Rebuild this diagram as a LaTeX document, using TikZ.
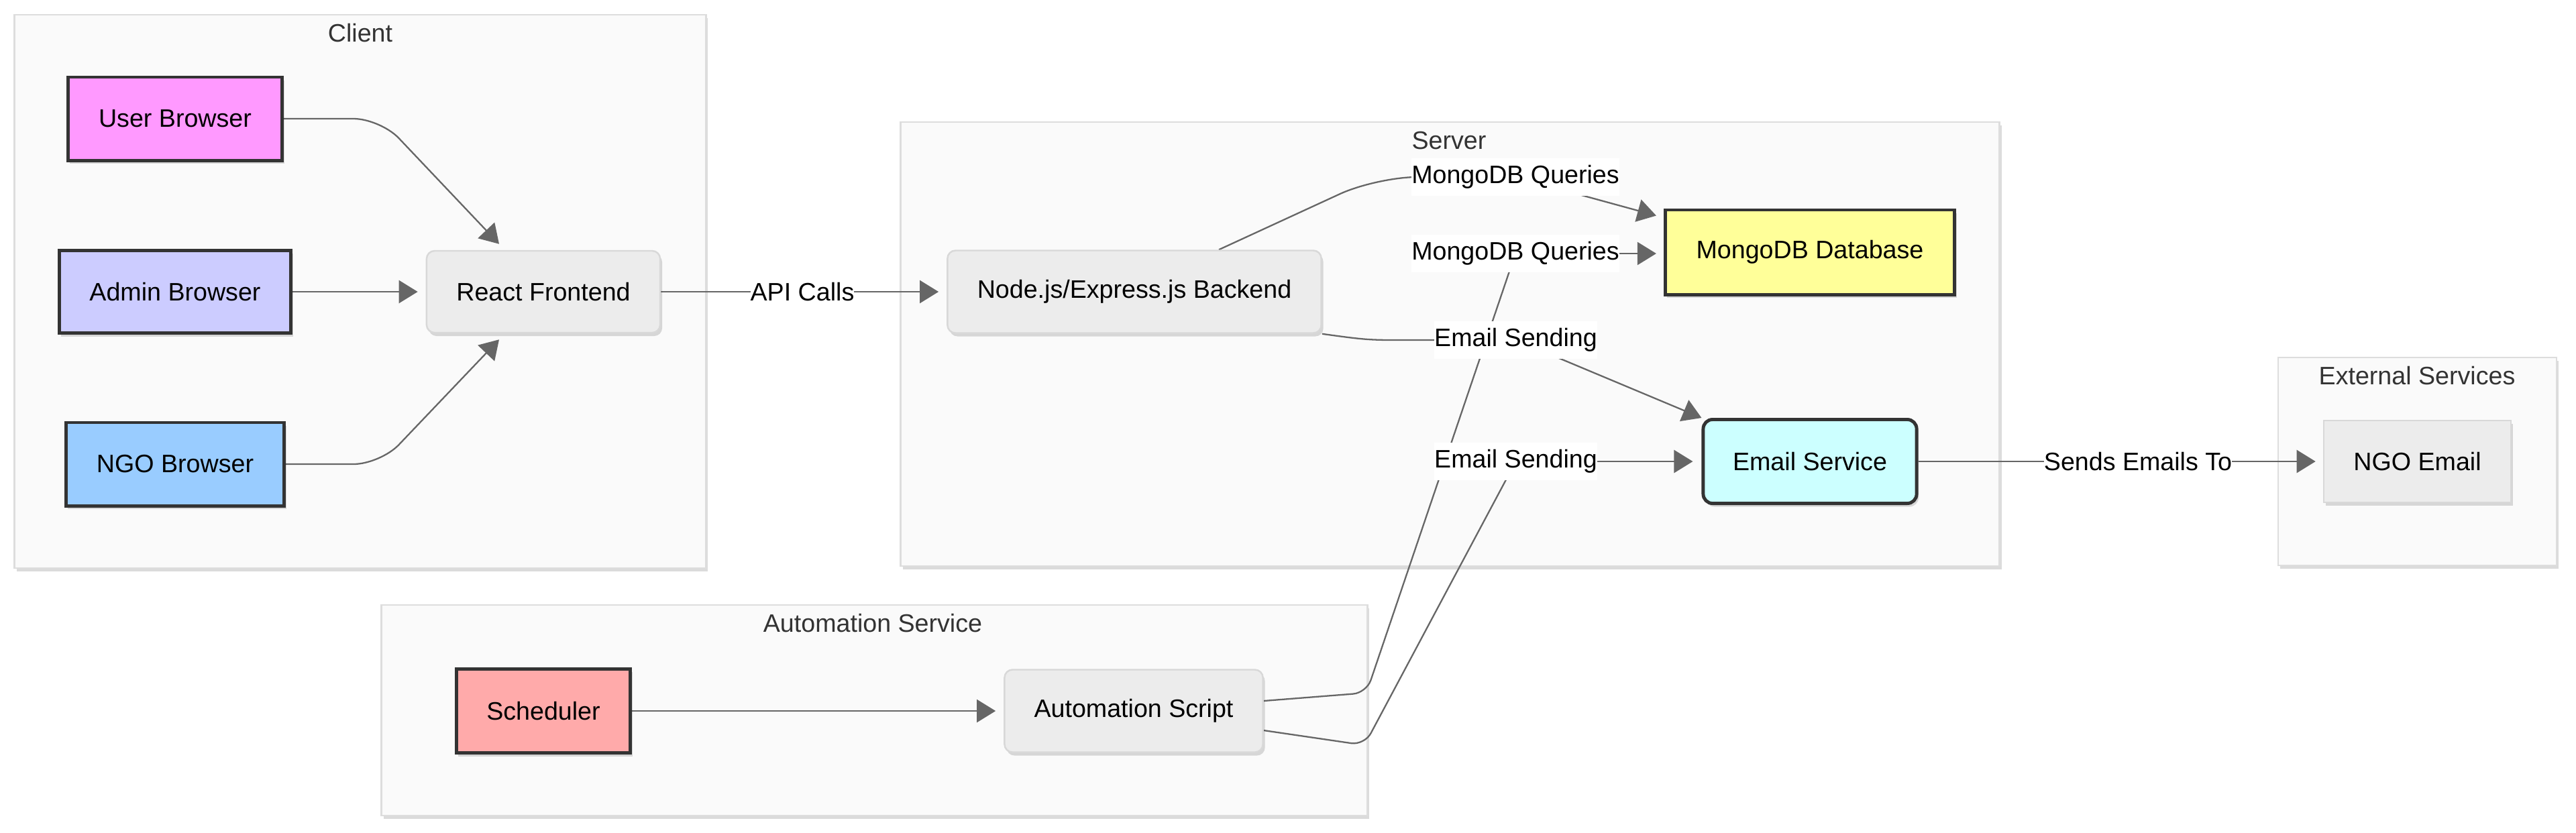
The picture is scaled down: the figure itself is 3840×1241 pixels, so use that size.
\documentclass[tikz,border=0pt]{standalone}
\usepackage{fontspec}
\setmainfont{Liberation Sans}
\usetikzlibrary{arrows.meta,calc,shadows}
\definecolor{edgec}{HTML}{666666}
\definecolor{thickc}{HTML}{333333}
\definecolor{nodefill}{HTML}{ECECEC}
\definecolor{nodeline}{HTML}{D8D8D8}
\definecolor{clfill}{HTML}{FAFAFA}
\definecolor{clline}{HTML}{DDDDDD}
\definecolor{cuser}{HTML}{FF99FF}
\definecolor{cadmin}{HTML}{CCCCFF}
\definecolor{cngo}{HTML}{99CCFF}
\definecolor{cdb}{HTML}{FFFF99}
\definecolor{cemail}{HTML}{CCFFFF}
\definecolor{csched}{HTML}{FFAAAA}
\definecolor{titlec}{HTML}{333333}
\pgfdeclarelayer{clusterlayer}
\pgfdeclarelayer{edgelayer}
\pgfsetlayers{clusterlayer,edgelayer,main}
\begin{document}
\begin{tikzpicture}[x=0.01cm,y=-0.01cm,
  txt/.style={font=\fontsize{10.7}{12.8}\selectfont},
  shad/.style={drop shadow={shadow xshift=0.03cm,shadow yshift=-0.05cm,opacity=0.14,fill=black}},
  basebox/.style={txt,shad,inner sep=0pt,align=center,text=black},
  graybox/.style={basebox,draw=nodeline,line width=0.7pt,fill=nodefill,rounded corners=0.12cm},
  grayrect/.style={basebox,draw=nodeline,line width=0.7pt,fill=nodefill},
  thickbox/.style={basebox,draw=thickc,line width=1.4pt},
  cluster/.style={draw=clline,line width=0.7pt,fill=clfill,shad,inner sep=0pt},
  cltitle/.style={txt,text=titlec,inner sep=0pt},
  elabel/.style={txt,fill=white,inner xsep=0pt,inner ysep=0pt,minimum height=0.56cm,text=black},
  conn/.style={draw=edgec,line width=0.65pt},
  arr/.style={conn,-{Triangle[length=0.28cm,width=0.34cm]}}
]
\useasboundingbox (0,0) rectangle (3840,1241);

% clusters
\begin{pgfonlayer}{clusterlayer}
\node[cluster,minimum width=10.30cm,minimum height=8.25cm] (clientbox) at (537,434.5) {};
\node[cluster,minimum width=16.37cm,minimum height=6.62cm] (serverbox) at (2161.5,513) {};
\node[cluster,minimum width=4.15cm,minimum height=3.10cm] (extbox) at (3603.5,688) {};
\node[cluster,minimum width=14.69cm,minimum height=3.14cm] (autobox) at (1303.5,1059) {};
\end{pgfonlayer}
\node[cltitle] (clienttitle) at (537,49) {Client};
\node[cltitle] (servertitle) at (2160,210) {Server};
\node[cltitle] (exttitle) at (3603,560) {External Services};
\node[cltitle] (autotitle) at (1301,929) {Automation Service};

% nodes
\node[thickbox,fill=cuser,minimum width=3.19cm,minimum height=1.24cm] (user) at (261,177) {User Browser};
\node[thickbox,fill=cadmin,minimum width=3.45cm,minimum height=1.23cm] (admin) at (261,435) {Admin Browser};
\node[thickbox,fill=cngo,minimum width=3.25cm,minimum height=1.24cm] (ngo) at (261,692) {NGO Browser};
\node[graybox,minimum width=3.48cm,minimum height=1.22cm] (react) at (810,435) {React Frontend};
\node[graybox,minimum width=5.57cm,minimum height=1.23cm] (backend) at (1691,435) {Node.js/Express.js Backend};
\node[thickbox,fill=cdb,minimum width=4.31cm,minimum height=1.26cm] (db) at (2698,376) {MongoDB Database};
\node[thickbox,fill=cemail,rounded corners=0.14cm,minimum width=3.18cm,minimum height=1.25cm] (email) at (2698,688) {Email Service};
\node[grayrect,minimum width=2.79cm,minimum height=1.22cm] (ngoemail) at (3603.5,688) {NGO Email};
\node[thickbox,fill=csched,minimum width=2.59cm,minimum height=1.25cm] (sched) at (810,1060) {Scheduler};
\node[graybox,minimum width=3.85cm,minimum height=1.23cm] (script) at (1690,1060) {Automation Script};

% edge labels
\node[elabel] (apicalls) at (1196,435) {API Calls};
\node[elabel] (mq1) at (2259,264) {MongoDB Queries};
\node[elabel] (mq2) at (2259,378) {MongoDB Queries};
\node[elabel] (es1) at (2259.5,507) {Email Sending};
\node[elabel] (es2) at (2259.5,688) {Email Sending};
\node[elabel] (sends) at (3187,688) {Sends Emails To};

% edges
\begin{pgfonlayer}{edgelayer}
\draw[arr,rounded corners=0.4cm] (user.east) -- (567,177) -- ($(react.north)+(-66,-9)$);
\draw[arr] (admin.east) -- ($(react.west)+(-12,0)$);
\draw[arr,rounded corners=0.4cm] (ngo.east) -- (567,692) -- ($(react.south)+(-66,9)$);
\draw[arr] (react.east) -- ($(backend.west)+(-12,0)$);
\draw[conn,rounded corners=0.6cm] ($(backend.north)+(126,0)$) -- (2052,264) -- (mq1.center);
\draw[arr] (mq1.center) -- ($(db.north west)+(-11,11)$);
\draw[conn] (backend.south east) .. controls (2030,506) and (2040,507) .. (2080,507) -- (es1.center);
\draw[arr] (es1.center) -- (email.north west);
\draw[conn,rounded corners=0.2cm] ($(script.east)+(0,-15)$) -- (2037,1033) -- (mq2.center);
\draw[arr] (mq2.center) -- ($(db.west)+(-11,2)$);
\draw[conn,rounded corners=0.2cm] ($(script.east)+(0,29)$) -- (2034,1111) -- (es2.center);
\draw[arr] (es2.center) -- ($(email.west)+(-13,0)$);
\draw[arr] (sched.east) -- ($(script.west)+(-12,0)$);
\draw[arr] (email.east) -- ($(ngoemail.west)+(-11,0)$);
\end{pgfonlayer}
\end{tikzpicture}
\end{document}
